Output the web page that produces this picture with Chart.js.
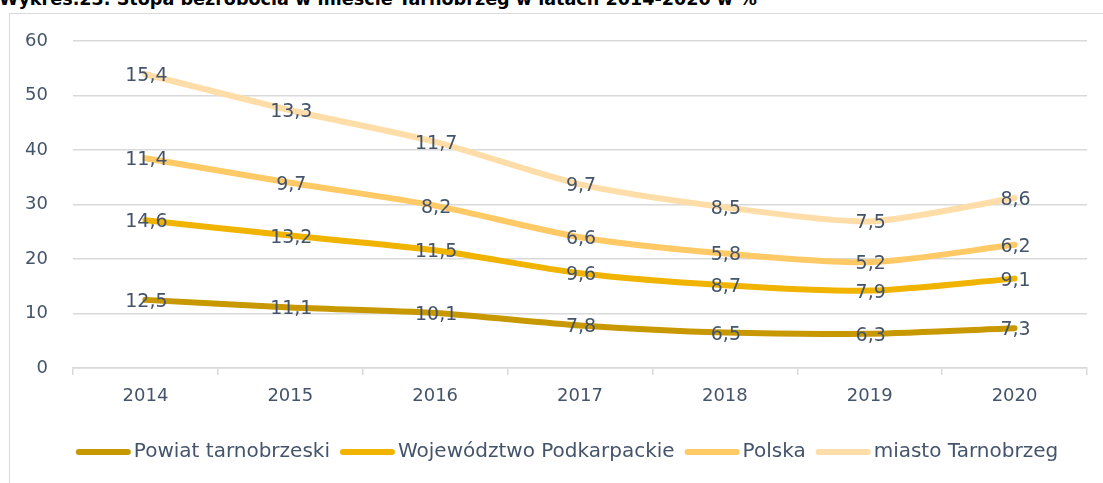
<!DOCTYPE html>
<html><head><meta charset="utf-8">
<script src="https://cdn.jsdelivr.net/npm/chart.js@4"></script>
<style>
html,body{margin:0;padding:0;background:#fff;overflow:hidden;}
#wrap{position:relative;width:1103px;height:483px;}
#frame{position:absolute;left:9px;top:13px;width:1200px;height:600px;border:1px solid #d9d9d9;box-sizing:border-box;}
#title{position:absolute;left:-1px;top:-11px;font:bold 17.6px "DejaVu Sans",sans-serif;color:#000;white-space:nowrap;}
canvas{position:absolute;left:0;top:0;}
</style></head>
<body><div id="wrap"><div id="frame"></div>
<div id="title">Wykres.23. Stopa bezrobocia w mieście Tarnobrzeg w latach 2014-2020 w %</div>
<canvas id="c" width="1103" height="483"></canvas></div>
<script>
const years = ['2014','2015','2016','2017','2018','2019','2020'];
const powiat = [12.5, 11.1, 10.1, 7.8, 6.5, 6.3, 7.3];
const wojewodztwo = [14.6, 13.2, 11.5, 9.6, 8.7, 7.9, 9.1];
const polska = [11.4, 9.7, 8.2, 6.6, 5.8, 5.2, 6.2];
const miasto = [15.4, 13.3, 11.7, 9.7, 8.5, 7.5, 8.6];
const seriesNames = ['Powiat tarnobrzeski','Województwo Podkarpackie','Polska','miasto Tarnobrzeg'];
const seriesColors = ['#C89800','#F0B400','#FFC966','#FFDDA8'];
const yTicks = [0,10,20,30,40,50,60];

const TXT = '#44546A';
const FONT = '"DejaVu Sans", sans-serif';

const labelPlugin = {
  id:'vlabels',
  afterDatasetsDraw(chart){
    const ctx = chart.ctx;
    ctx.save();
    ctx.font = '19px ' + FONT;
    ctx.fillStyle = TXT;
    ctx.textAlign = 'center';
    ctx.textBaseline = 'middle';
    chart.data.datasets.forEach((ds, i) => {
      const meta = chart.getDatasetMeta(i);
      meta.data.forEach((pt, j) => {
        ctx.fillText(ds.data[j].toFixed(1).replace('.', ','), pt.x + 1, pt.y + 2);
      });
    });
    ctx.restore();
  }
};

// legend drawn below the axis: line sample, small gap, label
const legendPlugin = {
  id:'lineLegend',
  afterDraw(chart){
    const ctx = chart.ctx;
    ctx.save();
    ctx.font = '20px ' + FONT;
    const sample = 55, gap = 3, spacing = 10;
    const items = chart.data.datasets.map(ds => ({ds, w: ctx.measureText(ds.label).width}));
    const total = items.reduce((a, it) => a + sample + gap + it.w, 0) + spacing * (items.length - 1);
    let x = 567 - total / 2;
    const y = 452;
    ctx.textBaseline = 'middle';
    ctx.textAlign = 'left';
    items.forEach(it => {
      ctx.strokeStyle = it.ds.borderColor;
      ctx.lineWidth = 6;
      ctx.lineCap = 'round';
      ctx.beginPath();
      ctx.moveTo(x + 3, y);
      ctx.lineTo(x + sample - 3, y);
      ctx.stroke();
      ctx.fillStyle = TXT;
      ctx.fillText(it.ds.label, x + sample + gap, y);
      x += sample + gap + it.w + spacing;
    });
    ctx.restore();
  }
};

const dataArrays = [powiat, wojewodztwo, polska, miasto];
new Chart(document.getElementById('c'), {
  type:'line',
  data:{
    labels: years,
    datasets: dataArrays.map((d,i)=>({
      label: seriesNames[i], data: d,
      borderColor: seriesColors[i], backgroundColor: seriesColors[i],
      borderWidth: 6, pointRadius: 0, fill: false, tension: 0.25,
      borderCapStyle: 'round'
    }))
  },
  options:{
    responsive:false, animation:false,
    layout:{padding:{left:20,right:16,top:41,bottom:49}},
    plugins:{
      tooltip:{enabled:false},
      legend:{display:false}
    },
    scales:{
      x:{
        offset:true,
        grid:{offset:true, drawOnChartArea:false, drawTicks:true, tickLength:7, color:'#d9d9d9', lineWidth:1.5},
        border:{color:'#d9d9d9', width:1.5},
        ticks:{color:TXT, font:{size:18, family:FONT}, padding:11},
        afterFit(s){ s.height = 66; }
      },
      y:{
        stacked:true, min:0, max:60,
        afterBuildTicks(s){ s.ticks = yTicks.map(v=>({value:v})); },
        grid:{color:'#d9d9d9', lineWidth:1.5, drawTicks:false},
        border:{display:false},
        ticks:{color:TXT, font:{size:18, family:FONT}, padding:25},
        afterFit(s){ s.width = 53; }
      }
    }
  },
  plugins:[labelPlugin, legendPlugin]
});
</script></body></html>
